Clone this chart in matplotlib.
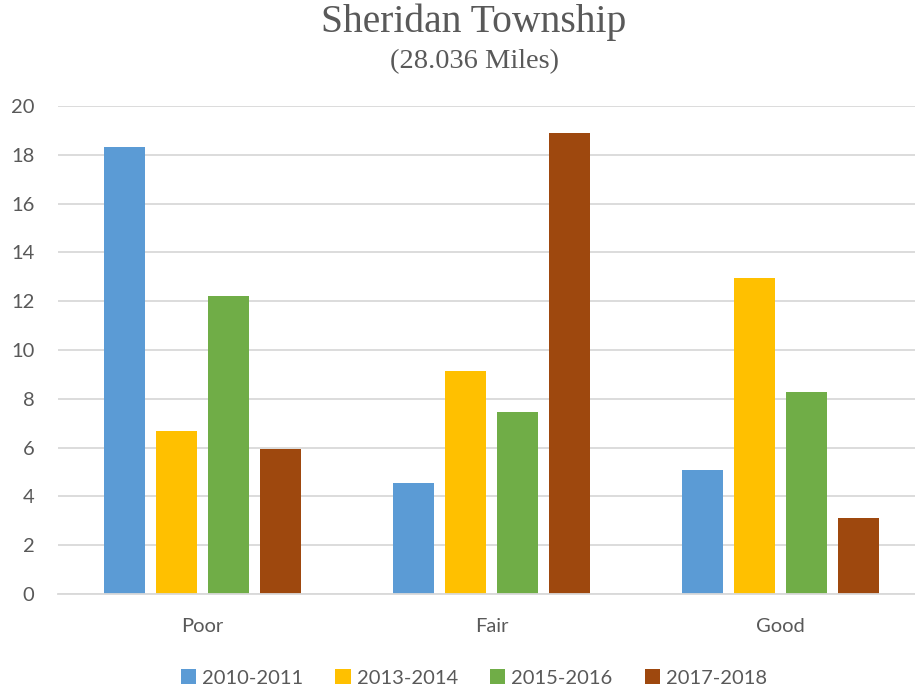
import matplotlib
matplotlib.use("Agg")
import matplotlib.pyplot as plt
import numpy as np

categories = ["Poor", "Fair", "Good"]
series_names = ["2010-2011", "2013-2014", "2015-2016", "2017-2018"]
v2010 = [18.30, 4.54, 5.09]
v2013 = [6.66, 9.12, 12.94]
v2015 = [12.20, 7.45, 8.29]
v2017 = [5.95, 18.88, 3.13]
colors = ["#5B9BD5", "#FFC000", "#70AD47", "#9E480E"]
yticks = [0, 2, 4, 6, 8, 10, 12, 14, 16, 18, 20]

W, H = 915, 691
fig = plt.figure(figsize=(W / 100, H / 100), dpi=100)
left, right, bottom, top = 58, 925, 594, 106
ax = fig.add_axes([left / W, 1 - bottom / H, (right - left) / W, (bottom - top) / H])

x = np.arange(len(categories))
bw = 41 / 289
pitch = 52 / 289
for i, (vals, c, name) in enumerate(zip([v2010, v2013, v2015, v2017], colors, series_names)):
    ax.bar(x + (i - 1.5) * pitch, vals, width=bw, color=c, label=name, zorder=3)

ax.set_xlim(-0.5, 2.5)
ax.set_ylim(0, 20)
ax.set_yticks(yticks)
ax.set_xticks(x)
ax.set_xticklabels(categories)
ax.grid(axis="y", color="#D9D9D9", linewidth=1.3, zorder=0)
for s in ["top", "right", "left"]:
    ax.spines[s].set_visible(False)
ax.spines["bottom"].set_color("#D9D9D9")
ax.spines["bottom"].set_linewidth(1.3)
ax.spines["bottom"].set_zorder(4)
ax.tick_params(axis="both", length=0, labelsize=14.5, labelcolor="#595959")
ax.tick_params(axis="y", pad=17)
ax.tick_params(axis="x", pad=17)
for lab in ax.get_xticklabels() + ax.get_yticklabels():
    lab.set_fontfamily("Lato")

fig.text(474 / W, 1 - 22 / H, "Sheridan Township", ha="center", va="center",
         fontsize=28.5, color="#595959", family="Liberation Serif")
fig.text(474 / W, 1 - 62 / H, "(28.036 Miles)", ha="center", va="center",
         fontsize=20.5, color="#595959", family="Liberation Serif")

leg = fig.legend(loc="center", bbox_to_anchor=(474 / W, 1 - 678 / H), ncol=4, frameon=False,
                 prop={"family": "Lato", "size": 14.5}, handlelength=0.75, handleheight=0.75,
                 handletextpad=0.3, columnspacing=1.6, labelcolor="#595959")

fig.savefig("out.png", dpi=100)
